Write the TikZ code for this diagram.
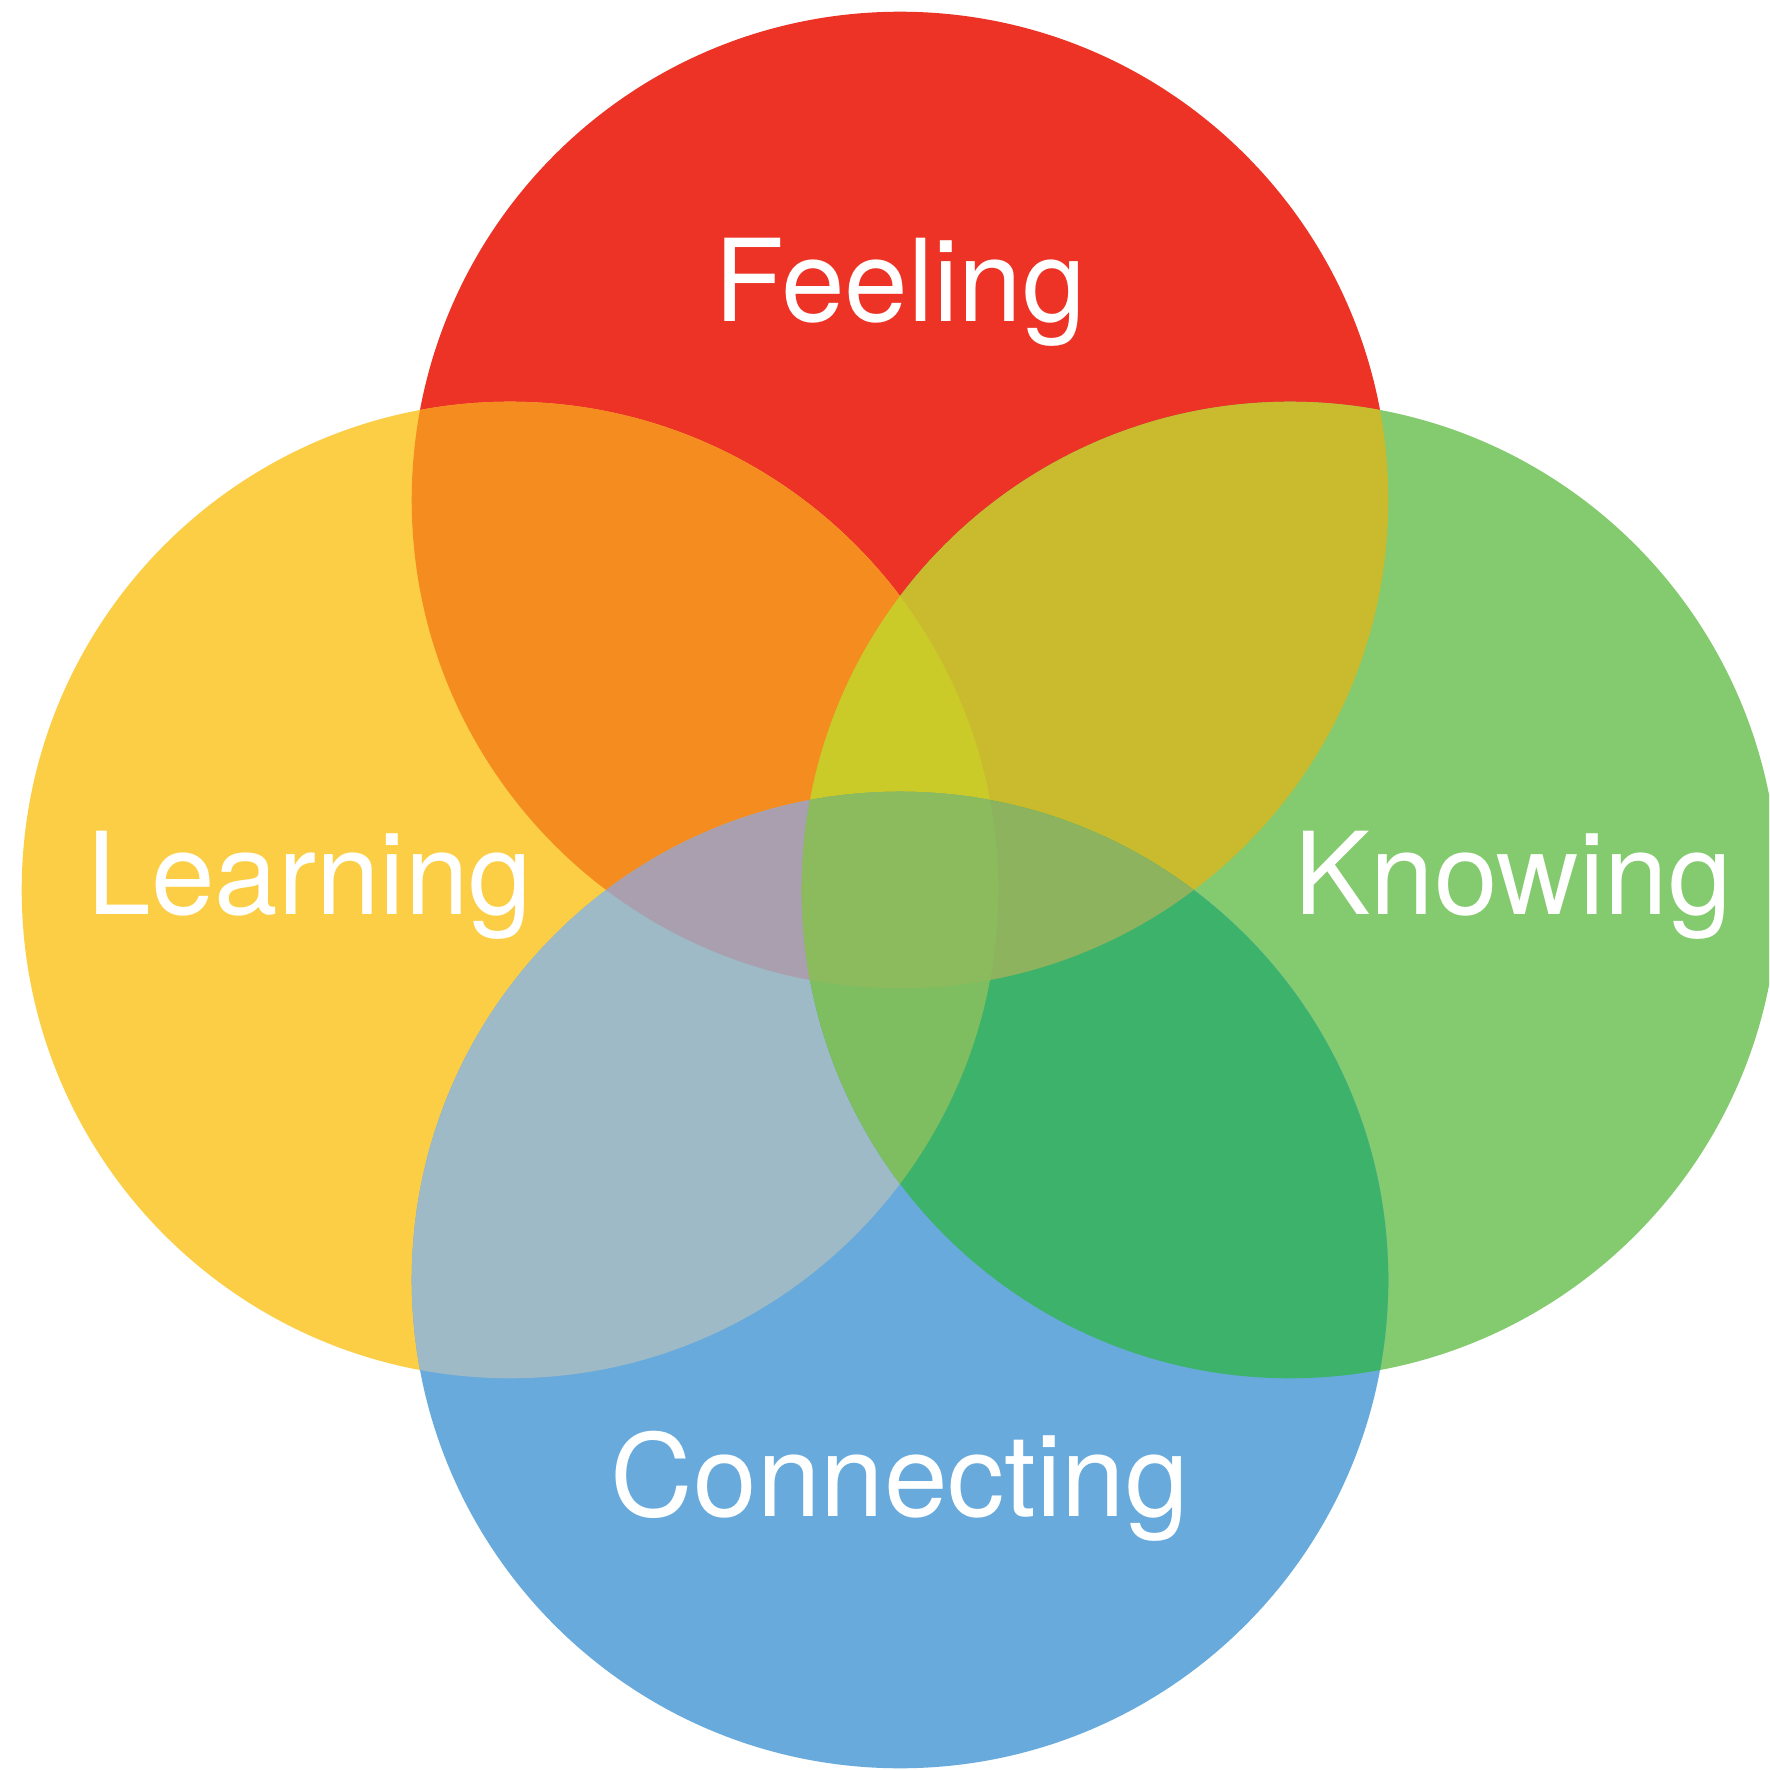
\documentclass[tikz,border=0pt]{standalone}
\usepackage{fontspec}
\setmainfont{TeX Gyre Heros}
\definecolor{cT}{HTML}{EC3326}
\definecolor{cL}{HTML}{FCCE45}
\definecolor{cR}{HTML}{84CA6E}
\definecolor{cB}{HTML}{67AADB}
\definecolor{cTL}{HTML}{F48C20}
\definecolor{cTR}{HTML}{C9BB2D}
\definecolor{cBL}{HTML}{9DBAC6}
\definecolor{cBR}{HTML}{3DB26B}
\definecolor{cTLR}{HTML}{CACA29}
\definecolor{cTLB}{HTML}{AA9FAF}
\definecolor{cTRB}{HTML}{8EB35E}
\definecolor{cLRB}{HTML}{7FBE60}
\definecolor{cTLRB}{HTML}{8CBB5E}
\tikzset{
  lbl/.style={text=white, anchor=base, inner sep=0pt, font=\fontsize{32.5}{39}\selectfont},
}
\newcommand{\rr}{4.88cm}
\begin{document}
\begin{tikzpicture}[x=0.01cm,y=0.01cm]
\clip (0,0) rectangle (1769,-1770);
\fill[white] (0,0) rectangle (1769,-1770);
\coordinate (T) at (900,-500);
\coordinate (L) at (510,-890);
\coordinate (R) at (1290,-890);
\coordinate (B) at (900,-1280);
% single circles
\fill[cT] (T) circle[radius=\rr];
\fill[cL] (L) circle[radius=\rr];
\fill[cR] (R) circle[radius=\rr];
\fill[cB] (B) circle[radius=\rr];
% pairwise overlaps
\begin{scope}\clip (T) circle[radius=\rr]; \fill[cTL] (L) circle[radius=\rr];\end{scope}
\begin{scope}\clip (T) circle[radius=\rr]; \fill[cTR] (R) circle[radius=\rr];\end{scope}
\begin{scope}\clip (B) circle[radius=\rr]; \fill[cBL] (L) circle[radius=\rr];\end{scope}
\begin{scope}\clip (B) circle[radius=\rr]; \fill[cBR] (R) circle[radius=\rr];\end{scope}
% triple overlaps
\begin{scope}\clip (T) circle[radius=\rr]; \clip (L) circle[radius=\rr]; \fill[cTLR] (R) circle[radius=\rr];\end{scope}
\begin{scope}\clip (T) circle[radius=\rr]; \clip (L) circle[radius=\rr]; \fill[cTLB] (B) circle[radius=\rr];\end{scope}
\begin{scope}\clip (T) circle[radius=\rr]; \clip (R) circle[radius=\rr]; \fill[cTRB] (B) circle[radius=\rr];\end{scope}
\begin{scope}\clip (L) circle[radius=\rr]; \clip (R) circle[radius=\rr]; \fill[cLRB] (B) circle[radius=\rr];\end{scope}
% all four
\begin{scope}\clip (T) circle[radius=\rr]; \clip (L) circle[radius=\rr]; \clip (R) circle[radius=\rr]; \fill[cTLRB] (B) circle[radius=\rr];\end{scope}
% labels
\node[lbl] (feeling) at (900,-322) {Feeling};
\node[lbl] (learning) at (310,-914) {Learning};
\node[lbl] (knowing) at (1513,-914) {Knowing};
\node[lbl] (connecting) at (900,-1516) {Connecting};
\end{tikzpicture}
\end{document}
